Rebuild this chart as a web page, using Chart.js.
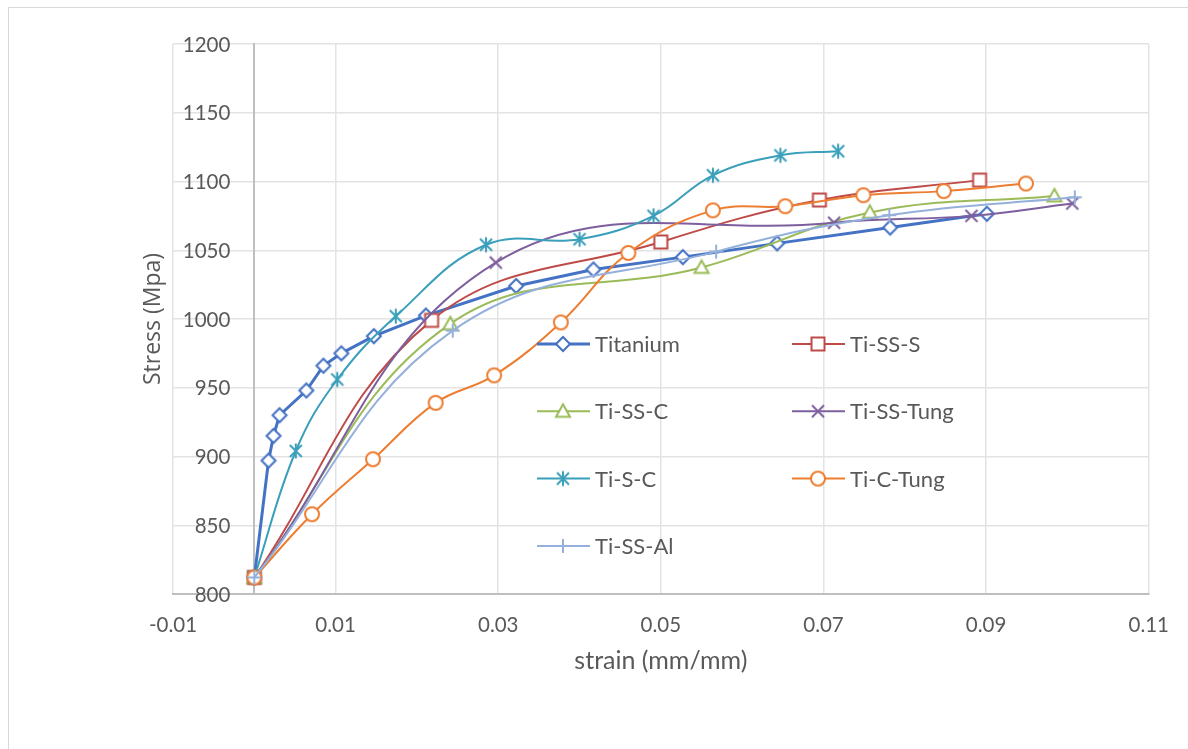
<!DOCTYPE html>
<html><head><meta charset="utf-8">
<script src="https://cdn.jsdelivr.net/npm/chart.js@4.4.0/dist/chart.umd.min.js"></script>
<style>html,body{margin:0;padding:0;background:#fff;}#wrap{position:relative;width:1188px;height:749px;}</style>
</head><body><div id="wrap"><canvas id="c" width="1188" height="749"></canvas></div>
<script>
// ---- data ----
const seriesNames = ['Titanium', 'Ti-SS-S', 'Ti-SS-C', 'Ti-SS-Tung', 'Ti-S-C', 'Ti-C-Tung', 'Ti-SS-Al'];
const xTickValues = [-0.01, 0.01, 0.03, 0.05, 0.07, 0.09, 0.11];
const xTickLabels = ['-0.01', '0.01', '0.03', '0.05', '0.07', '0.09', '0.11'];
const yTickValues = [800, 850, 900, 950, 1000, 1050, 1100, 1150, 1200];
const yTickLabels = ['800', '850', '900', '950', '1000', '1050', '1100', '1150', '1200'];

const titaniumX = [0, 0.00175, 0.00236, 0.0031, 0.0064, 0.0085, 0.0107, 0.0147, 0.0211, 0.0322, 0.0417, 0.0527, 0.0643, 0.0782, 0.0901];
const titaniumY = [812, 897, 915, 930, 948, 966, 975, 987.5, 1002.5, 1024, 1036, 1045, 1055, 1066.5, 1076.5];
const tiSSSX = [0, 0.0218, 0.05, 0.0695, 0.0892];
const tiSSSY = [812, 999, 1056, 1086.5, 1101];
const tiSSCX = [0, 0.0241, 0.055, 0.0757, 0.0984];
const tiSSCY = [812, 996.5, 1037.5, 1077.5, 1089.5];
const tiSSTungX = [0, 0.0297, 0.0713, 0.0882, 0.1006];
const tiSSTungY = [812, 1041, 1070, 1075, 1084];
const tiSCX = [0, 0.0051, 0.0102, 0.0174, 0.0285, 0.04, 0.0491, 0.0564, 0.0647, 0.0718];
const tiSCY = [812, 904, 956, 1002, 1054, 1058, 1075, 1104.5, 1119, 1122];
const tiCTungX = [0, 0.0071, 0.0146, 0.0223, 0.0295, 0.0377, 0.046, 0.0564, 0.0653, 0.0749, 0.0848, 0.0949];
const tiCTungY = [812, 858, 898, 939, 959, 997.5, 1048, 1079, 1082, 1090, 1093, 1098.5];
const tiSSAlX = [0, 0.0244, 0.0568, 0.0781, 0.1009];
const tiSSAlY = [812, 991.5, 1049, 1075.5, 1088.5];

// ---- styles ----
const colors = ['#4472C4', '#BE4B48', '#9BBB59', '#7E5F9E', '#3A9FBA', '#ED7D31', '#95B0DA'];
const markerTypes = ['diamond', 'square', 'triangle', 'x', 'asterisk', 'circle', 'plus'];
const lineWidths = [3, 2, 2, 2, 2, 2, 2];
const tensions = [0, 0.4, 0.4, 0.4, 0.4, 0.4, 0.4];
const TEXT = '#595959';

function makeMarker(type, color) {
  const c = document.createElement('canvas');
  c.width = 22; c.height = 22;
  const g = c.getContext('2d');
  const m = 11;
  g.strokeStyle = color; g.fillStyle = '#ffffff'; g.lineWidth = 2;
  g.beginPath();
  if (type === 'diamond') {
    g.moveTo(m, m - 7); g.lineTo(m + 7, m); g.lineTo(m, m + 7); g.lineTo(m - 7, m); g.closePath();
    g.fill(); g.stroke();
  } else if (type === 'square') {
    g.rect(m - 6.5, m - 6.5, 13, 13); g.fill(); g.stroke();
  } else if (type === 'triangle') {
    g.moveTo(m, m - 7); g.lineTo(m + 7, m + 5.5); g.lineTo(m - 7, m + 5.5); g.closePath(); g.fill(); g.stroke();
  } else if (type === 'circle') {
    g.arc(m, m, 7, 0, Math.PI * 2); g.fill(); g.stroke();
  } else if (type === 'x') {
    g.moveTo(m - 6, m - 6); g.lineTo(m + 6, m + 6); g.moveTo(m + 6, m - 6); g.lineTo(m - 6, m + 6); g.stroke();
  } else if (type === 'asterisk') {
    g.moveTo(m - 6, m - 6); g.lineTo(m + 6, m + 6); g.moveTo(m + 6, m - 6); g.lineTo(m - 6, m + 6);
    g.moveTo(m, m - 7.5); g.lineTo(m, m + 7.5); g.stroke();
  } else if (type === 'plus') {
    g.moveTo(m - 7, m); g.lineTo(m + 7, m); g.moveTo(m, m - 7); g.lineTo(m, m + 7); g.stroke();
  }
  return c;
}

const xs = [titaniumX, tiSSSX, tiSSCX, tiSSTungX, tiSCX, tiCTungX, tiSSAlX];
const ys = [titaniumY, tiSSSY, tiSSCY, tiSSTungY, tiSCY, tiCTungY, tiSSAlY];
const markers = markerTypes.map((t, i) => makeMarker(t, colors[i]));

const datasets = seriesNames.map((name, i) => ({
  label: name,
  data: xs[i].map((x, j) => ({ x: x, y: ys[i][j] })),
  borderColor: colors[i],
  backgroundColor: colors[i],
  borderWidth: lineWidths[i],
  tension: tensions[i],
  pointStyle: markers[i],
  pointRadius: 7,
  pointHoverRadius: 7,
  order: seriesNames.length - i,
  showLine: true,
  fill: false
}));

const frame = {
  id: 'frame',
  beforeDraw(chart) {
    const ctx = chart.ctx;
    ctx.save();
    ctx.fillStyle = '#fff'; ctx.fillRect(0, 0, chart.width, chart.height);
    ctx.strokeStyle = '#D9D9D9'; ctx.lineWidth = 1;
    ctx.strokeRect(8.5, 7.5, chart.width + 20, chart.height + 20);
    ctx.restore();
  },
  beforeDatasetsDraw(chart) {
    // y tick labels, placed left of the y axis that crosses at x = 0
    const ctx = chart.ctx, xs_ = chart.scales.x, ys_ = chart.scales.y;
    const axisX = xs_.getPixelForValue(0);
    ctx.save();
    ctx.font = '20.5px Lato';
    ctx.fillStyle = TEXT; ctx.textAlign = 'right'; ctx.textBaseline = 'middle';
    yTickValues.forEach((v, i) => {
      ctx.fillText(yTickLabels[i], axisX - 24, ys_.getPixelForValue(v) + 1);
    });
    ctx.restore();
  },
  afterDraw(chart) {
    const ctx = chart.ctx, a = chart.chartArea;
    ctx.save();
    // y-axis title
    ctx.translate(153, (a.top + a.bottom) / 2);
    ctx.rotate(-Math.PI / 2);
    ctx.font = '23px "Open Sans"';
    ctx.fillStyle = TEXT; ctx.textAlign = 'center'; ctx.textBaseline = 'middle';
    ctx.fillText('Stress (Mpa)', 0, 0);
    ctx.restore();
    // legend
    ctx.save();
    ctx.font = '22px Lato';
    ctx.textBaseline = 'middle'; ctx.textAlign = 'left';
    seriesNames.forEach((name, i) => {
      const col = i % 2, row = Math.floor(i / 2);
      const cx = a.left + 390 + col * 255;
      const cy = a.top + 300 + row * 67.3;
      ctx.strokeStyle = colors[i]; ctx.lineWidth = lineWidths[i];
      ctx.beginPath(); ctx.moveTo(cx - 26, cy); ctx.lineTo(cx + 27, cy); ctx.stroke();
      ctx.drawImage(markers[i], cx - 11, cy - 11);
      ctx.fillStyle = TEXT;
      ctx.fillText(name, cx + 32, cy + 1);
    });
    ctx.restore();
  }
};

new Chart(document.getElementById('c'), {
  type: 'scatter',
  data: { datasets },
  options: {
    responsive: false,
    animation: false,
    events: [],
    layout: { padding: { left: 173, right: 35, top: 44, bottom: 0 } },
    plugins: { legend: { display: false }, tooltip: { enabled: false } },
    scales: {
      x: {
        type: 'linear', position: 'bottom', min: -0.01, max: 0.11,
        afterFit(s) { s.height = 155; },
        afterBuildTicks(s) { s.ticks = xTickValues.map(v => ({ value: v })); },
        ticks: {
          padding: 19, color: TEXT, font: { family: 'Lato', size: 20.5 },
          callback(v, idx) { return xTickLabels[idx]; }
        },
        grid: { color: '#E3E3E3', lineWidth: 1.5, drawTicks: false },
        border: { color: '#BFBFBF', width: 2 },
        title: { display: true, text: 'strain (mm/mm)', color: TEXT, font: { family: 'Lato', size: 25 }, padding: { top: 0, bottom: 73 } }
      },
      y: {
        type: 'linear', position: { x: 0 }, min: 800, max: 1200,
        afterBuildTicks(s) { s.ticks = yTickValues.map(v => ({ value: v })); },
        ticks: { display: false },
        grid: { color: '#E3E3E3', lineWidth: 1.5, drawTicks: false },
        border: { color: '#BFBFBF', width: 2 },
        title: { display: false }
      }
    }
  },
  plugins: [frame]
});
</script>
</body></html>
